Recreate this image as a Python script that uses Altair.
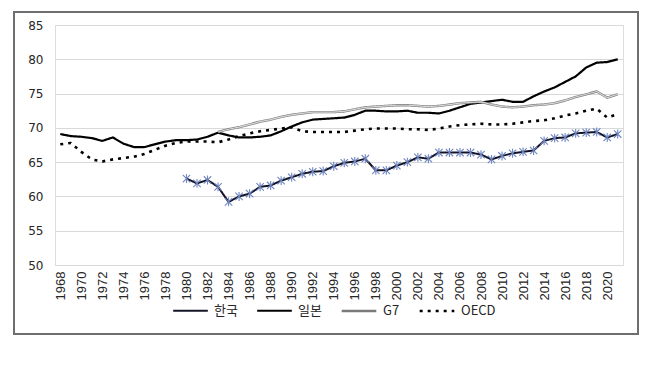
import altair as alt
import pandas as pd

years = list(range(1968, 2022))

korea_years = list(range(1980, 2022))
korea = [62.6, 61.9, 62.4, 61.4, 59.2, 60.0, 60.4, 61.4, 61.6, 62.3,
         62.8, 63.3, 63.6, 63.7, 64.4, 64.9, 65.1, 65.5, 63.8, 63.8,
         64.5, 65.0, 65.7, 65.5, 66.4, 66.4, 66.4, 66.4, 66.1, 65.4,
         65.9, 66.3, 66.5, 66.7, 68.1, 68.5, 68.6, 69.2, 69.3, 69.4,
         68.6, 69.1]

japan = [69.1, 68.8, 68.7, 68.5, 68.1, 68.6, 67.7, 67.2, 67.2, 67.6,
         68.0, 68.2, 68.2, 68.3, 68.7, 69.3, 68.9, 68.6, 68.6, 68.7,
         68.9, 69.5, 70.2, 70.8, 71.2, 71.3, 71.4, 71.5, 71.9, 72.5,
         72.5, 72.4, 72.4, 72.5, 72.2, 72.2, 72.1, 72.5, 73.0, 73.5,
         73.7, 73.9, 74.1, 73.8, 73.8, 74.6, 75.3, 75.9, 76.7, 77.5,
         78.8, 79.5, 79.6, 80.0]

g7_years = list(range(1983, 2022))
g7 = [69.4, 69.8, 70.1, 70.5, 70.9, 71.2, 71.6, 71.9, 72.1, 72.3,
      72.3, 72.3, 72.4, 72.7, 73.0, 73.1, 73.2, 73.3, 73.3, 73.2,
      73.1, 73.2, 73.4, 73.6, 73.7, 73.8, 73.4, 73.1, 73.0, 73.1,
      73.3, 73.4, 73.6, 74.0, 74.5, 74.9, 75.3, 74.4, 74.9]

oecd = [67.6, 67.8, 66.5, 65.4, 65.1, 65.4, 65.6, 65.8, 66.2, 66.8,
        67.4, 67.8, 68.0, 68.0, 68.0, 67.9, 68.3, 68.8, 69.2, 69.5,
        69.7, 69.9, 70.1, 69.5, 69.4, 69.4, 69.4, 69.4, 69.6, 69.8,
        69.9, 69.9, 69.9, 69.8, 69.8, 69.7, 69.9, 70.2, 70.4, 70.5,
        70.6, 70.5, 70.5, 70.6, 70.8, 71.0, 71.1, 71.4, 71.8, 72.1,
        72.5, 72.8, 71.5, 72.0]

series_names = ["한국", "일본", "G7", "OECD"]
y_ticks = [50, 55, 60, 65, 70, 75, 80, 85]

rows = []
for yr, v in zip(korea_years, korea):
    rows.append({"year": yr, "value": v, "series": "한국"})
for yr, v in zip(years, japan):
    rows.append({"year": yr, "value": v, "series": "일본"})
for yr, v in zip(g7_years, g7):
    rows.append({"year": yr, "value": v, "series": "G7"})
for yr, v in zip(years, oecd):
    rows.append({"year": yr, "value": v, "series": "OECD"})
df = pd.DataFrame(rows)

xscale = alt.Scale(type="point", domain=years, padding=0.5)
x_enc = alt.X(
    "year:O", scale=xscale,
    axis=alt.Axis(values=years[::2], labelAngle=-90, title=None, domain=False,
                  ticks=False, grid=False, labelFont="Liberation Sans Narrow, Liberation Sans",
                  labelFontSize=13, labelColor="#262626", labelPadding=6),
)
y_enc = alt.Y(
    "value:Q", scale=alt.Scale(domain=[50, 85], nice=False, zero=False),
    axis=alt.Axis(values=y_ticks, title=None, domain=False, ticks=False,
                  grid=True, gridColor="#d9d9d9", gridWidth=1,
                  labelFont="DejaVu Sans", labelFontSize=12, labelColor="#262626",
                  labelPadding=12),
)

legend = alt.Legend(
    title=None, orient="none", legendX=117, legendY=267, direction="horizontal",
    symbolType="stroke", symbolSize=1200, symbolStrokeWidth=2.5,
    labelFont="Noto Sans CJK KR", labelFontSize=13, labelColor="#262626",
    columnPadding=14, labelOffset=5,
)

frame = alt.Chart(pd.DataFrame({"k": [0]})).mark_rect(
    fill=None, stroke="#6e6e6e", strokeWidth=2
).encode(x=alt.value(-41), x2=alt.value(583), y=alt.value(-13), y2=alt.value(309))

lines = alt.Chart(df).mark_line(strokeJoin="round").encode(
    x=x_enc, y=y_enc,
    color=alt.Color("series:N", scale=alt.Scale(domain=series_names,
                    range=["#141428", "#000000", "#7a7a7a", "#000000"]),
                    legend=legend, sort=series_names),
    strokeDash=alt.StrokeDash("series:N", scale=alt.Scale(domain=series_names,
                    range=[[1, 0], [1, 0], [1, 0], [3, 5]]),
                    legend=legend, sort=series_names),
    strokeWidth=alt.StrokeWidth("series:N", scale=alt.Scale(domain=series_names,
                    range=[2, 2.6, 4.2, 3.2]), legend=None),
    detail="series:N",
)

g7_inner = alt.Chart(df[df["series"] == "G7"]).mark_line(
    color="#d6d6d6", strokeWidth=1.2, strokeJoin="round"
).encode(x=x_enc, y=y_enc)

korea_pts = alt.Chart(df[df["series"] == "한국"]).mark_point(
    shape="M-1,-1L1,1M-1,1L1,-1M0,-1.2L0,1.2", filled=False,
    color="#6f86c0", strokeWidth=1.1, size=55, opacity=1
).encode(x=x_enc, y=y_enc)

chart = alt.layer(frame, lines, g7_inner, korea_pts).properties(
    width=568, height=240,
    autosize=alt.AutoSizeParams(type="none"),
    padding={"left": 47, "top": 17, "right": 20, "bottom": 70},
).configure_view(stroke=None).configure(background="white")

chart.save("out.html", embed_options={"renderer": "svg", "actions": False})
